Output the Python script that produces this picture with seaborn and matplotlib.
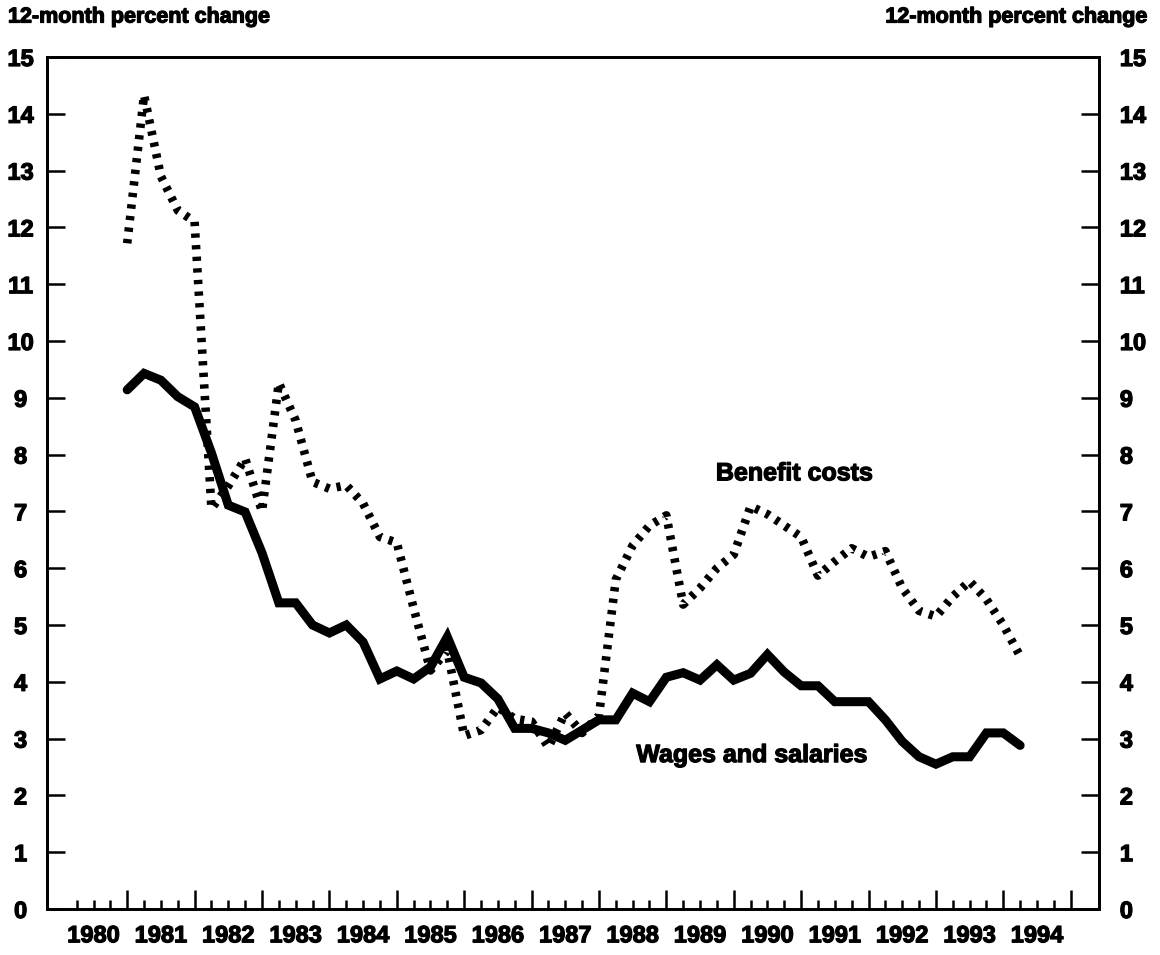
import matplotlib
matplotlib.use("Agg")
import matplotlib.pyplot as plt
import matplotlib.patheffects as pe
from matplotlib.ticker import FixedLocator
import pandas as pd
import seaborn as sns

# quarterly 12-month percent changes, first observation 1981 Q1
first_quarter = 1981.0
wages = [9.14, 9.43, 9.31, 9.02, 8.84, 8.03, 7.11, 6.99, 6.27, 5.39,
         5.39, 5.00, 4.86, 5.00, 4.70, 4.05, 4.19, 4.05, 4.26, 4.79,
         4.08, 3.98, 3.70, 3.18, 3.18, 3.10, 2.97, 3.15, 3.33, 3.33,
         3.80, 3.65, 4.08, 4.16, 4.03, 4.30, 4.03, 4.15, 4.48, 4.17,
         3.93, 3.93, 3.65, 3.65, 3.65, 3.33, 2.95, 2.68, 2.55, 2.68,
         2.68, 3.10, 3.10, 2.88]
benefits = [11.72, 14.33, 12.90, 12.30, 12.10, 7.05, 7.45, 7.93, 7.00, 9.26,
            8.60, 7.52, 7.40, 7.46, 7.14, 6.55, 6.45, 5.30, 4.20, 4.55,
            3.05, 3.15, 3.55, 3.35, 3.30, 2.85, 3.45, 3.10, 3.40, 5.80,
            6.40, 6.75, 6.93, 5.36, 5.65, 6.00, 6.24, 7.09, 6.95, 6.75,
            6.55, 5.87, 6.12, 6.35, 6.20, 6.30, 5.65, 5.25, 5.15, 5.50,
            5.77, 5.45, 5.00, 4.45]
quarters = [first_quarter + 0.25 * i for i in range(len(wages))]

years = list(range(1980, 1995))
year_labels = [str(y) for y in years]
y_ticks = list(range(0, 16))

sns.set_style("ticks", {"axes.edgecolor": "black", "xtick.color": "black",
                        "ytick.color": "black", "text.color": "black"})
plt.rcParams["font.family"] = ["Liberation Sans", "DejaVu Sans"]
plt.rcParams["font.weight"] = "bold"

# slight ink spread like the printed original
heavy = [pe.withStroke(linewidth=0.9, foreground="black")]

df = pd.DataFrame({"quarter": quarters, "wages": wages, "benefits": benefits})

W, H = 1160, 955
fig = plt.figure(figsize=(W / 100, H / 100), dpi=100)
ax = fig.add_axes([47 / W, 1 - 909 / H, (1099 - 47) / W, (909 - 57) / H])

sns.lineplot(data=df, x="quarter", y="benefits", ax=ax, color="black",
             lw=6.2, linestyle=(0, (0.5, 0.85)), dash_capstyle="butt",
             estimator=None, errorbar=None)
sns.lineplot(data=df, x="quarter", y="wages", ax=ax, color="black",
             lw=6.5, solid_joinstyle="miter", estimator=None, errorbar=None)

ax.set_xlim(1979.81, 1995.42)
ax.set_ylim(0, 15)
ax.set_xlabel("")
ax.set_ylabel("")
for sp in ax.spines.values():
    sp.set_visible(True)
    sp.set_linewidth(2)

# x ticks: tall at year boundaries, short at quarters
ax.xaxis.set_major_locator(FixedLocator(list(range(1981, 1996))))
ax.xaxis.set_minor_locator(FixedLocator([1980.25 + 0.25 * k for k in range(59)]))
ax.tick_params(axis="x", which="major", direction="in", length=13.5, width=1.8,
               labelbottom=False, bottom=True)
ax.tick_params(axis="x", which="minor", direction="in", length=6.5, width=1.8,
               bottom=True)

# year labels centred in each year
sec = ax.secondary_xaxis("bottom")
sec.set_xticks([y + 0.5 for y in years], labels=year_labels)
sec.tick_params(length=0, pad=11, labelsize=17)
sec.spines["bottom"].set_visible(False)
for lab in sec.get_xticklabels():
    lab.set_path_effects(heavy)

# left y axis
ax.set_yticks(y_ticks)
ax.tick_params(axis="y", direction="in", length=13, width=1.8, left=True,
               labelsize=17, pad=19)
for lab in ax.get_yticklabels():
    lab.set_horizontalalignment("center")
    lab.set_path_effects(heavy)

# right y axis
ax_r = ax.twinx()
ax_r.set_ylim(0, 15)
ax_r.set_yticks(y_ticks)
ax_r.tick_params(axis="y", direction="in", length=13, width=1.8, right=True,
                 labelsize=17, pad=15)
for sp in ax_r.spines.values():
    sp.set_linewidth(2)
for lab in ax_r.get_yticklabels():
    lab.set_path_effects(heavy)

ax.text(1990.9, 7.67, "Benefit costs", ha="center", va="center",
        fontsize=18, fontweight="bold", path_effects=heavy)
ax.text(1990.27, 2.71, "Wages and salaries", ha="center", va="center",
        fontsize=18, fontweight="bold", path_effects=heavy)

fig.text(8 / W, 1 - 17 / H, "12-month percent change", ha="left", va="center",
         fontsize=15.5, fontweight="bold", path_effects=heavy)
fig.text(1148 / W, 1 - 17 / H, "12-month percent change", ha="right", va="center",
         fontsize=15.5, fontweight="bold", path_effects=heavy)

fig.savefig("out.png", dpi=100)
